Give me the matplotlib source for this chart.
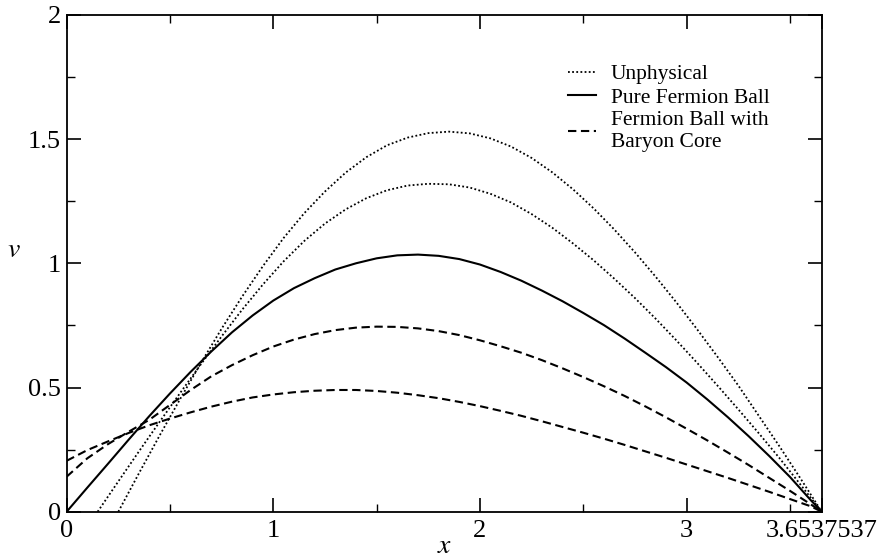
import matplotlib
matplotlib.use("Agg")
import matplotlib.pyplot as plt
from matplotlib.ticker import MultipleLocator, FixedLocator

plt.rcParams['font.family'] = ['Liberation Serif', 'DejaVu Serif']
plt.rcParams['mathtext.fontset'] = 'stix'

x_end = 3.6537537

# unphysical (upper dotted)
unph1_x = [0.25, 0.35, 0.45, 0.55, 0.65, 0.75, 0.85, 0.95, 1.05, 1.15, 1.25, 1.35, 1.45, 1.55,
           1.65, 1.75, 1.85, 1.95, 2.05, 2.15, 2.25, 2.35, 2.45, 2.55, 2.65, 2.75, 2.85, 2.95,
           3.05, 3.15, 3.25, 3.35, 3.45, 3.55, x_end]
unph1_y = [0.0, 0.155, 0.307, 0.455, 0.599, 0.737, 0.867, 0.989, 1.102, 1.202, 1.289, 1.365, 1.427, 1.475,
           1.506, 1.524, 1.53, 1.523, 1.503, 1.47, 1.424, 1.366, 1.298, 1.221, 1.136, 1.044, 0.946, 0.843,
           0.735, 0.623, 0.508, 0.385, 0.262, 0.135, 0.0]

# unphysical (lower dotted)
unph2_x = [0.15, 0.25, 0.35, 0.45, 0.55, 0.65, 0.75, 0.85, 0.95, 1.05, 1.15, 1.25, 1.35, 1.45,
           1.55, 1.65, 1.75, 1.85, 1.95, 2.05, 2.15, 2.25, 2.35, 2.45, 2.55, 2.65, 2.75, 2.85,
           2.95, 3.05, 3.15, 3.25, 3.35, 3.45, 3.55, x_end]
unph2_y = [0.0, 0.122, 0.243, 0.362, 0.479, 0.594, 0.706, 0.814, 0.915, 1.008, 1.09, 1.16, 1.217, 1.262,
           1.294, 1.313, 1.32, 1.318, 1.305, 1.28, 1.245, 1.198, 1.143, 1.08, 1.012, 0.938, 0.86, 0.777,
           0.69, 0.60, 0.507, 0.412, 0.315, 0.215, 0.11, 0.0]

# pure fermion ball
pure_x = [0.0, 0.1, 0.2, 0.3, 0.4, 0.5, 0.6, 0.7, 0.8, 0.9, 1.0, 1.1, 1.2, 1.3, 1.4, 1.5, 1.6,
          1.7, 1.8, 1.9, 2.0, 2.1, 2.2, 2.3, 2.4, 2.5, 2.6, 2.7, 2.8, 2.9, 3.0, 3.1, 3.2, 3.3,
          3.4, 3.5, 3.6, x_end]
pure_y = [0.0, 0.097, 0.193, 0.29, 0.385, 0.476, 0.563, 0.645, 0.722, 0.79, 0.85, 0.9, 0.94, 0.975,
          1.0, 1.02, 1.032, 1.035, 1.03, 1.017, 0.995, 0.965, 0.93, 0.89, 0.847, 0.80, 0.751, 0.697,
          0.64, 0.582, 0.52, 0.452, 0.38, 0.304, 0.224, 0.14, 0.047, 0.0]

# fermion ball with baryon core (upper dashed)
core1_x = [0.0, 0.1, 0.2, 0.3, 0.4, 0.5, 0.6, 0.7, 0.8, 0.9, 1.0, 1.1, 1.2, 1.3, 1.4, 1.5, 1.6,
           1.7, 1.8, 1.9, 2.0, 2.1, 2.2, 2.3, 2.4, 2.5, 2.6, 2.7, 2.8, 2.9, 3.0, 3.1, 3.2, 3.3,
           3.4, 3.5, 3.6, x_end]
core1_y = [0.141, 0.215, 0.272, 0.322, 0.37, 0.43, 0.49, 0.545, 0.59, 0.63, 0.665, 0.693, 0.715, 0.731,
           0.741, 0.745, 0.744, 0.738, 0.727, 0.711, 0.69, 0.666, 0.64, 0.61, 0.577, 0.542, 0.505, 0.466,
           0.424, 0.38, 0.334, 0.287, 0.238, 0.188, 0.136, 0.084, 0.03, 0.0]

# fermion ball with baryon core (lower dashed)
core2_x = [0.0, 0.1, 0.2, 0.3, 0.4, 0.5, 0.6, 0.7, 0.8, 0.9, 1.0, 1.1, 1.2, 1.3, 1.4, 1.5, 1.6,
           1.7, 1.8, 1.9, 2.0, 2.1, 2.2, 2.3, 2.4, 2.5, 2.6, 2.7, 2.8, 2.9, 3.0, 3.1, 3.2, 3.3,
           3.4, 3.5, 3.6, x_end]
core2_y = [0.205, 0.248, 0.283, 0.317, 0.348, 0.375, 0.40, 0.423, 0.443, 0.46, 0.472, 0.481, 0.487, 0.49,
           0.49, 0.486, 0.479, 0.469, 0.457, 0.442, 0.425, 0.406, 0.386, 0.364, 0.341, 0.318, 0.294, 0.269,
           0.243, 0.217, 0.19, 0.163, 0.136, 0.108, 0.08, 0.051, 0.022, 0.0]

x_ticks = [0, 1, 2, 3, x_end]
x_tick_labels = ["0", "1", "2", "3", "3.6537537"]
y_ticks = [0, 0.5, 1, 1.5, 2]
y_tick_labels = ["0", "0.5", "1", "1.5", "2"]

fig = plt.figure(figsize=(8.77, 5.57), dpi=100)
ax = fig.add_axes([0.076, 0.0813, 0.861, 0.892])

dot = (0, (1, 1.3))
dash = (0, (4, 2.2))
ax.plot(unph1_x, unph1_y, color="black", lw=1.3, linestyle=dot, label="Unphysical")
ax.plot(unph2_x, unph2_y, color="black", lw=1.3, linestyle=dot)
ax.plot(pure_x, pure_y, color="black", lw=1.5, label="Pure Fermion Ball")
ax.plot(core1_x, core1_y, color="black", lw=1.5, linestyle=dash, label="Fermion Ball with\nBaryon Core")
ax.plot(core2_x, core2_y, color="black", lw=1.5, linestyle=dash)

ax.set_xlim(0, x_end)
ax.set_ylim(0, 2)
ax.xaxis.set_major_locator(FixedLocator(x_ticks))
ax.set_xticklabels(x_tick_labels)
ax.xaxis.set_minor_locator(FixedLocator([0.5, 1.5, 2.5, 3.5]))
ax.yaxis.set_major_locator(FixedLocator(y_ticks))
ax.set_yticklabels(y_tick_labels)
ax.yaxis.set_minor_locator(MultipleLocator(0.25))
ax.tick_params(which="both", direction="in", top=True, right=True, labelsize=19)
ax.tick_params(axis="x", pad=6)
ax.tick_params(axis="y", pad=4)
ax.tick_params(which="major", length=10, width=1.2)
ax.tick_params(which="minor", length=6, width=1.0)
for s in ax.spines.values():
    s.set_linewidth(1.3)

ax.set_xlabel("$x$", fontsize=20, labelpad=-6)
ax.set_ylabel("$v$", fontsize=20, rotation=0)
ax.yaxis.set_label_coords(-0.07, 0.5)

ax.legend(loc="upper left", bbox_to_anchor=(0.652, 0.918), frameon=False, fontsize=15.5,
          handlelength=1.3, handletextpad=0.7, labelspacing=0.15, borderaxespad=0)

fig.savefig("out.png", dpi=100)
